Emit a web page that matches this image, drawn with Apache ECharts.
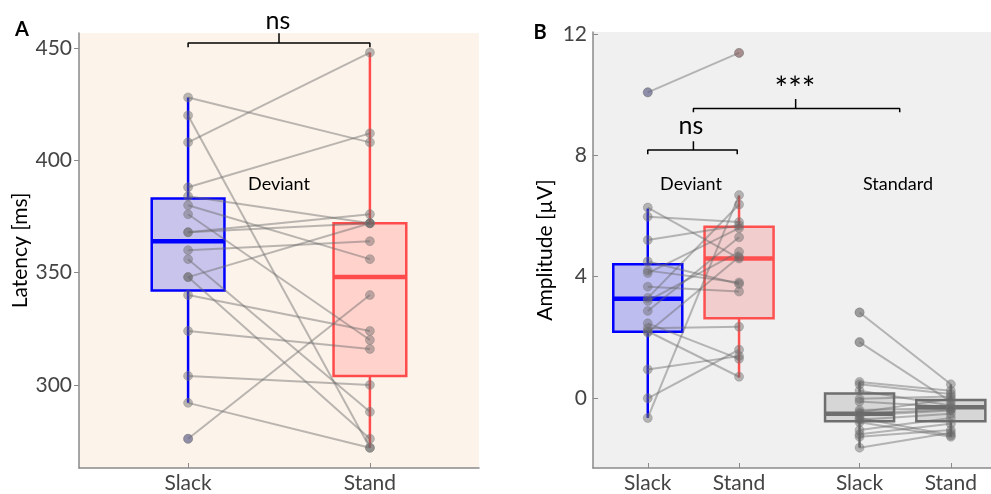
<!DOCTYPE html>
<html>
<head>
<meta charset="utf-8">
<script src="https://cdn.jsdelivr.net/npm/echarts@6/dist/echarts.min.js"></script>
<style>html,body{margin:0;padding:0;background:#fff}#main{width:991px;height:494px}</style>
</head>
<body>
<div id="main"></div>
<script>
// panel A - latency per subject (same order in both arrays)
const latSlack = [428, 420, 408, 388, 384, 380, 376, 368, 368, 360, 356, 348, 348, 340, 324, 304, 292, 276];
const latStand = [408, 272, 448, 412, 372, 356, 320, 376, 372, 364, 288, 372, 276, 324, 316, 300, 272, 340];
// box stats: [min, q1, median, q3, max]
const latBoxSlack = [292, 342, 364, 383, 428];
const latBoxStand = [272, 304, 348, 372, 448];
const latOutSlack = [276];

// panel B - amplitude, deviant
const devSlack = [10.08, 6.28, 5.98, 5.21, 4.50, 4.20, 4.12, 3.67, 3.30, 3.20, 2.87, 2.46, 2.30, 2.20, 2.16, 0.94, -0.01, -0.66];
const devStand = [11.38, 4.60, 5.80, 5.69, 3.76, 3.81, 5.60, 3.51, 6.38, 4.82, 5.30, 1.29, 2.35, 0.70, 4.65, 1.38, 1.59, 6.69];
const devBoxSlack = [-0.66, 2.18, 3.27, 4.41, 6.25];
const devBoxStand = [0.67, 2.63, 4.60, 5.65, 6.67];
const devOutSlack = [10.08];
const devOutStand = [11.38];

// panel B - amplitude, standard
const stdSlack = [2.82, 1.84, 0.53, 0.45, 0.24, -0.03, -0.12, -0.40, -0.47, -0.52, -0.58, -0.66, -0.72, -0.80, -1.06, -1.20, -1.28, -1.64];
const stdStand = [0.45, -0.12, 0.24, 0.13, -0.25, 0.05, -0.30, -0.34, -0.03, -0.38, -0.41, -1.23, -0.52, -1.28, -0.66, -0.85, -1.06, -1.15];
const stdBoxSlack = [-1.64, -0.77, -0.52, 0.15, 0.53];
const stdBoxStand = [-1.28, -0.77, -0.31, -0.07, 0.45];
const stdOutSlack = [2.82, 1.84];

const condLabels = ['Slack', 'Stand'];
const ticksA = [300, 350, 400, 450];
const ticksB = [0, 4, 8, 12];
const posA = [1, 2];
const posB = [1, 2, 3.32, 4.32];

let chartDom = document.getElementById('main');
let myChart = echarts.init(chartDom);

const FONT = 'Lato';
const ptColor = 'rgba(105,105,105,0.45)';

function boxRender(boxW, stroke, fill, lw, medW) {
    return function (params, api) {
        const x = api.value(0);
        const lo = api.coord([x, api.value(1)]);
        const q1 = api.coord([x, api.value(2)]);
        const md = api.coord([x, api.value(3)]);
        const q3 = api.coord([x, api.value(4)]);
        const hi = api.coord([x, api.value(5)]);
        const w = api.size([boxW, 0])[0];
        return {
            type: 'group',
            children: [
                { type: 'line', shape: { x1: lo[0], y1: lo[1], x2: hi[0], y2: hi[1] }, style: { stroke: stroke, lineWidth: lw } },
                { type: 'rect', shape: { x: q3[0] - w / 2, y: q3[1], width: w, height: q1[1] - q3[1] }, style: { fill: fill, stroke: stroke, lineWidth: lw } },
                { type: 'line', shape: { x1: md[0] - w / 2, y1: md[1], x2: md[0] + w / 2, y2: md[1] }, style: { stroke: stroke, lineWidth: medW } }
            ]
        };
    };
}

function box(grid, x, stats, boxW, stroke, fill) {
    return {
        type: 'custom', xAxisIndex: grid, yAxisIndex: grid,
        renderItem: boxRender(boxW, stroke, fill, 2.5, 4.5),
        data: [[x].concat(stats)],
        silent: true
    };
}

function pairLines(grid, x1, x2, a, b) {
    return {
        type: 'lines', coordinateSystem: 'cartesian2d', xAxisIndex: grid, yAxisIndex: grid,
        data: a.map((v, i) => ({ coords: [[x1, v], [x2, b[i]]] })),
        lineStyle: { color: ptColor, width: 2, opacity: 1 },
        silent: true
    };
}

function dots(grid, x, vals, color) {
    return {
        type: 'scatter', xAxisIndex: grid, yAxisIndex: grid,
        data: vals.map(v => [x, v]),
        symbolSize: 9,
        itemStyle: { color: color || ptColor, borderColor: 'rgba(120,120,120,0.35)', borderWidth: 1, opacity: 1 },
        silent: true
    };
}

function bracket(grid, x1, x2, xc, yBar, yEnd, yTop) {
    return {
        type: 'line', xAxisIndex: grid, yAxisIndex: grid,
        data: [[x1, yEnd], [x1, yBar], [xc, yBar], [xc, yTop], [xc, yBar], [x2, yBar], [x2, yEnd]],
        showSymbol: false, clip: false, silent: true,
        lineStyle: { color: '#000', width: 1.5 }
    };
}

function txt(x, y, s, size, weight) {
    return {
        type: 'text', x: x, y: y,
        style: { text: s, font: (weight || 'normal') + ' ' + size + 'px ' + FONT, fill: '#000', textAlign: 'center', textVerticalAlign: 'middle' }
    };
}

const axisGray = '#8a8a8a';
const tickLabel = { color: '#444', fontSize: 21, fontFamily: FONT };

option = {
    animation: false,
    grid: [
        { left: 79, top: 33, width: 400, height: 439, show: true, backgroundColor: '#fcf3ea', borderWidth: 0 },
        { left: 593, top: 32, right: 0, height: 441, show: true, backgroundColor: '#f0f0f0', borderWidth: 0 }
    ],
    xAxis: [
        {
            gridIndex: 0, type: 'value', min: 0.4, max: 2.6,
            splitLine: { show: false },
            axisLine: { onZero: false, lineStyle: { color: axisGray, width: 1.5 } },
            axisTick: { inside: true, length: 5, customValues: posA, lineStyle: { color: axisGray } },
            axisLabel: Object.assign({ customValues: posA, margin: 5, formatter: v => condLabels[posA.indexOf(v)] }, tickLabel)
        },
        {
            gridIndex: 1, type: 'value', min: 0.4, max: 4.76,
            splitLine: { show: false },
            axisLine: { onZero: false, lineStyle: { color: axisGray, width: 1.5 } },
            axisTick: { inside: true, length: 5, customValues: posB, lineStyle: { color: axisGray } },
            axisLabel: Object.assign({ customValues: posB, margin: 5, formatter: v => condLabels[posB.indexOf(v) % 2] }, tickLabel)
        }
    ],
    yAxis: [
        {
            gridIndex: 0, type: 'value', min: 263, max: 456.7,
            name: 'Latency [ms]', nameLocation: 'middle', nameGap: 48,
            nameTextStyle: { fontSize: 21, fontFamily: FONT, color: '#000' },
            splitLine: { show: false },
            axisLine: { show: true, onZero: false, lineStyle: { color: axisGray, width: 1.5 } },
            axisTick: { show: true, length: 5, customValues: ticksA, lineStyle: { color: axisGray } },
            axisLabel: Object.assign({ customValues: ticksA, margin: 7 }, tickLabel)
        },
        {
            gridIndex: 1, type: 'value', min: -2.31, max: 12.07,
            name: 'Amplitude [µV]', nameLocation: 'middle', nameGap: 37,
            nameTextStyle: { fontSize: 21, fontFamily: FONT, color: '#000' },
            splitLine: { show: false },
            axisLine: { show: true, onZero: false, lineStyle: { color: axisGray, width: 1.5 } },
            axisTick: { show: true, inside: true, length: 5, customValues: ticksB, lineStyle: { color: axisGray } },
            axisLabel: Object.assign({ customValues: ticksB, margin: 6 }, tickLabel)
        }
    ],
    graphic: [
        txt(22, 30, 'A', 20, 'bold'),
        txt(540, 33, 'B', 20, 'bold'),
        txt(278, 21, 'ns', 25),
        txt(691, 126, 'ns', 25),
        txt(795, 90, '***', 32),
        txt(279, 184, 'Deviant', 18),
        txt(691, 184, 'Deviant', 18),
        txt(898, 184, 'Standard', 18),
        { type: 'rect', shape: { x: 793, y: 471, width: 10, height: 5 }, style: { fill: '#fff' } }
    ],
    series: [
        box(0, 1, latBoxSlack, 0.4, '#0000ff', '#c8c4ec'),
        box(0, 2, latBoxStand, 0.4, '#ff4b4b', '#ffd2cc'),
        box(1, 1, devBoxSlack, 0.756, '#0000ff', '#bdbdf0'),
        box(1, 2, devBoxStand, 0.756, '#ff5050', '#f2cdcd'),
        box(1, 3.32, stdBoxSlack, 0.756, '#6e6e6e', '#d6d6d6'),
        box(1, 4.32, stdBoxStand, 0.756, '#6e6e6e', '#d6d6d6'),
        dots(0, 1, latOutSlack, 'rgba(90,90,200,0.45)'),
        dots(1, 1, devOutSlack, 'rgba(90,90,200,0.45)'),
        dots(1, 2, devOutStand, 'rgba(190,90,90,0.45)'),
        dots(1, 3.32, stdOutSlack, 'rgba(105,105,105,0.3)'),
        pairLines(0, 1, 2, latSlack, latStand),
        pairLines(1, 1, 2, devSlack, devStand),
        pairLines(1, 3.32, 4.32, stdSlack, stdStand),
        dots(0, 1, latSlack), dots(0, 2, latStand),
        dots(1, 1, devSlack), dots(1, 2, devStand),
        dots(1, 3.32, stdSlack), dots(1, 4.32, stdStand),
        bracket(0, 1, 2, 1.5, 452.2, 450.4, 456.6),
        bracket(1, 1, 1.98, 1.5, 8.18, 8.04, 8.47),
        bracket(1, 1.5, 3.76, 2.62, 9.55, 9.42, 9.86)
    ]
};

option && myChart.setOption(option);
</script>
</body>
</html>
